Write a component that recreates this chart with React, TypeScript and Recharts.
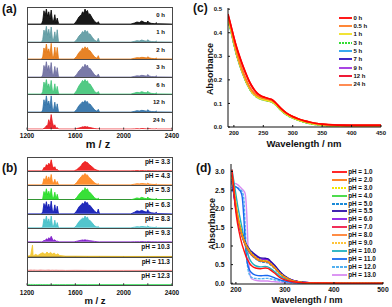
import React from 'react';
import { AreaChart, Area, XAxis, YAxis, LineChart, Line, Legend } from 'recharts';

const FONT = '"Liberation Sans", Arial, Helvetica, sans-serif';

// ---------- mass spectra (panels a, b) ----------
const MZ = [1200,
  1320, 1330, 1340, 1350, 1360, 1370, 1380, 1390, 1400, 1410, 1420, 1430, 1440, 1450, 1460, 1470,
  1590, 1610, 1630, 1650, 1660, 1670, 1680, 1690, 1700, 1710, 1720, 1740, 1760, 1780, 1790, 1800,
  2060, 2090, 2110, 2130, 2150, 2170, 2190, 2200, 2210, 2230, 2260, 2270, 2280, 2400];
const MZ_LOW = [1200, 1215, 1230, 1245, 1250, 1255, 1270, 1290, 1310, 1330, 1350, 1365, 1380, 1395, 1410,
  1425, 1440, 1455, 1470, 1490, 1520, 1600, 1700, 1800, 2000, 2200, 2400];
const MZ_TICKS = [1200, 1400, 1600, 1800, 2000, 2200, 2400];
const MZ_LABELED = [1200, 1600, 2000, 2400];

const MS_0H = [0, 0, 20, 78, 50, 88, 45, 72, 30, 82, 22, 18, 55, 8, 35, 5, 0, 0, 18, 42, 55, 72, 62, 88, 70, 80, 55, 60, 35, 15, 4, 14, 0, 0, 6, 12, 9, 18, 10, 7, 18, 8, 4, 2, 8, 2, 0];
const MS_1H = [0, 0, 15, 70, 45, 92, 40, 75, 25, 88, 18, 15, 60, 5, 72, 3, 0, 0, 12, 35, 50, 62, 55, 70, 58, 65, 45, 48, 28, 10, 3, 22, 0, 0, 4, 8, 6, 12, 7, 5, 14, 6, 3, 2, 6, 1, 0];
const MS_2H = [0, 0, 12, 65, 40, 88, 38, 60, 22, 92, 15, 12, 70, 5, 68, 3, 0, 0, 15, 38, 52, 65, 58, 72, 60, 68, 48, 50, 30, 12, 4, 20, 0, 0, 5, 8, 7, 10, 9, 6, 14, 7, 4, 2, 6, 1, 0];
const MS_3H = [0, 0, 12, 68, 42, 90, 40, 68, 25, 85, 16, 14, 62, 6, 55, 3, 0, 0, 14, 36, 50, 62, 56, 75, 62, 70, 48, 52, 32, 12, 4, 18, 0, 0, 4, 7, 6, 10, 8, 5, 15, 6, 3, 2, 7, 1, 0];
const MS_6H = [0, 0, 15, 70, 45, 85, 40, 60, 22, 80, 18, 15, 60, 6, 45, 4, 0, 0, 20, 48, 68, 80, 72, 85, 72, 78, 58, 60, 38, 14, 5, 15, 0, 0, 6, 10, 8, 14, 9, 7, 16, 8, 4, 2, 7, 1, 0];
const MS_12H = [0, 0, 12, 72, 40, 95, 42, 65, 25, 95, 18, 14, 58, 5, 48, 3, 0, 0, 14, 38, 52, 60, 55, 68, 58, 62, 45, 48, 30, 12, 4, 16, 0, 0, 4, 8, 6, 10, 8, 5, 14, 6, 3, 2, 6, 1, 0];
const MS_24H = [0, 0, 0, 4, 8, 20, 18, 55, 30, 85, 40, 15, 25, 5, 8, 2, 0, 0, 3, 6, 10, 13, 12, 15, 12, 14, 10, 9, 6, 3, 1, 2, 0, 0, 1, 2, 1, 3, 2, 1, 3, 2, 1, 0, 2, 0, 0];

const MS_PH33 = [0, 0, 5, 25, 20, 45, 35, 55, 40, 80, 35, 20, 30, 8, 10, 2, 0, 0, 8, 22, 40, 55, 60, 68, 62, 60, 50, 42, 28, 12, 4, 3, 0, 0, 1, 2, 1, 2, 1, 1, 2, 1, 1, 0, 1, 0, 0];
const MS_PH43 = [0, 0, 10, 45, 30, 65, 30, 58, 25, 75, 18, 14, 40, 5, 25, 2, 0, 0, 15, 40, 60, 72, 68, 82, 70, 72, 55, 50, 32, 14, 4, 8, 0, 0, 5, 8, 7, 10, 8, 6, 12, 6, 4, 2, 6, 1, 0];
const MS_PH53 = [0, 0, 10, 60, 35, 80, 35, 62, 25, 82, 18, 14, 55, 5, 40, 2, 0, 0, 15, 40, 58, 70, 65, 88, 72, 80, 58, 55, 35, 14, 5, 12, 0, 0, 8, 14, 10, 18, 12, 8, 20, 10, 6, 3, 9, 2, 0];
const MS_PH63 = [0, 0, 15, 75, 45, 88, 40, 70, 28, 92, 20, 15, 65, 6, 55, 3, 0, 0, 20, 50, 68, 78, 70, 90, 78, 82, 60, 62, 40, 18, 6, 35, 0, 0, 12, 22, 18, 25, 18, 12, 30, 14, 8, 4, 12, 2, 0];
const MS_PH83 = [0, 0, 10, 65, 40, 85, 35, 65, 22, 85, 16, 14, 55, 5, 38, 2, 0, 0, 18, 45, 62, 70, 65, 85, 70, 78, 55, 55, 35, 14, 5, 10, 0, 0, 5, 8, 7, 10, 8, 6, 14, 6, 4, 2, 7, 1, 0];
const MS_PH93 = [0, 0, 3, 10, 8, 22, 15, 30, 18, 40, 20, 10, 15, 4, 5, 2, 0, 0, 4, 8, 12, 14, 12, 15, 12, 12, 10, 8, 6, 3, 1, 1, 0, 0, 1, 1, 1, 2, 1, 1, 2, 1, 1, 0, 1, 0, 0];
const MS_PH103 = [10, 6, 12, 85, 14, 8, 18, 10, 22, 30, 18, 35, 22, 32, 20, 28, 14, 22, 10, 8, 5, 5, 4, 4, 3, 3, 3];
const MS_PH113 = [6, 4, 6, 5, 4, 6, 5, 4, 6, 5, 4, 5, 6, 4, 5, 4, 5, 4, 4, 4, 3, 4, 3, 3, 3, 3, 3];
const MS_PH123 = [4, 3, 3, 3, 2, 3, 2, 2, 3, 2, 2, 2, 2, 2, 2, 2, 2, 2, 2, 2, 2, 2, 2, 2, 2, 2, 2];

const TIME_LABELS = ['0 h', '1 h', '2 h', '3 h', '6 h', '12 h', '24 h'];
const TIME_COLORS = ['#000000', '#5b98a0', '#e4760f', '#6b6b9e', '#3fc477', '#2b6ea6', '#e8141c'];
const TIME_SPECTRA = [MS_0H, MS_1H, MS_2H, MS_3H, MS_6H, MS_12H, MS_24H];

const PH_LABELS = ['pH = 3.3', 'pH = 4.3', 'pH = 5.3', 'pH = 6.3', 'pH = 8.3', 'pH = 9.3', 'pH = 10.3', 'pH = 11.3', 'pH = 12.3'];
const PH_COLORS = ['#ee1111', '#ff8418', '#22dd22', '#0a14b4', '#40bfc8', '#7a14c8', '#f2c42a', '#f07a7a', '#33dd55'];
const PH_SPECTRA = [MS_PH33, MS_PH43, MS_PH53, MS_PH63, MS_PH83, MS_PH93, MS_PH103, MS_PH113, MS_PH123];
const PH_GRIDS = [MZ, MZ, MZ, MZ, MZ, MZ, MZ_LOW, MZ_LOW, MZ_LOW];

// ---------- UV-vis vs time (panel c) ----------
const WL_C = [190, 195, 200, 205, 210, 215, 220, 225, 230, 235, 240, 245, 250, 255, 260, 265, 270, 275, 280, 290, 300, 310, 320, 330, 340, 350, 360, 380, 400, 425, 450];
const ABS_T0 = [0.48, 0.43, 0.38, 0.335, 0.297, 0.262, 0.23, 0.2, 0.176, 0.157, 0.143, 0.134, 0.128, 0.124, 0.12, 0.116, 0.105, 0.092, 0.079, 0.058, 0.044, 0.034, 0.026, 0.02, 0.015, 0.012, 0.01, 0.008, 0.007, 0.007, 0.007];
const ABS_T05 = [0.47, 0.42, 0.365, 0.315, 0.273, 0.237, 0.205, 0.178, 0.157, 0.142, 0.132, 0.126, 0.122, 0.119, 0.116, 0.112, 0.102, 0.09, 0.077, 0.057, 0.043, 0.033, 0.025, 0.019, 0.014, 0.011, 0.009, 0.007, 0.006, 0.006, 0.006];
const ABS_T1 = [0.455, 0.41, 0.355, 0.305, 0.264, 0.228, 0.197, 0.171, 0.15, 0.136, 0.126, 0.12, 0.116, 0.113, 0.11, 0.106, 0.097, 0.085, 0.072, 0.052, 0.039, 0.029, 0.021, 0.015, 0.011, 0.008, 0.006, 0.004, 0.003, 0.003, 0.003];
const ABS_T3 = [0.45, 0.407, 0.353, 0.303, 0.262, 0.227, 0.196, 0.17, 0.149, 0.135, 0.125, 0.119, 0.115, 0.112, 0.109, 0.105, 0.096, 0.084, 0.071, 0.051, 0.038, 0.028, 0.02, 0.014, 0.01, 0.007, 0.005, 0.003, 0.002, 0.002, 0.002];
const ABS_T5 = [0.452, 0.408, 0.354, 0.304, 0.263, 0.228, 0.197, 0.171, 0.15, 0.136, 0.126, 0.12, 0.116, 0.113, 0.11, 0.106, 0.097, 0.085, 0.072, 0.052, 0.039, 0.029, 0.021, 0.015, 0.011, 0.008, 0.006, 0.004, 0.003, 0.003, 0.003];
const ABS_T7 = [0.458, 0.412, 0.356, 0.306, 0.265, 0.229, 0.198, 0.172, 0.151, 0.137, 0.127, 0.121, 0.117, 0.114, 0.111, 0.107, 0.098, 0.086, 0.073, 0.053, 0.04, 0.03, 0.022, 0.016, 0.012, 0.009, 0.007, 0.005, 0.004, 0.004, 0.004];
const ABS_T9 = [0.46, 0.414, 0.358, 0.308, 0.267, 0.231, 0.2, 0.174, 0.153, 0.139, 0.129, 0.123, 0.119, 0.116, 0.113, 0.109, 0.1, 0.088, 0.075, 0.055, 0.041, 0.031, 0.023, 0.017, 0.013, 0.01, 0.008, 0.006, 0.005, 0.005, 0.005];
const ABS_T12 = [0.475, 0.428, 0.378, 0.333, 0.295, 0.26, 0.228, 0.199, 0.175, 0.156, 0.142, 0.133, 0.127, 0.123, 0.119, 0.115, 0.104, 0.091, 0.078, 0.057, 0.043, 0.033, 0.025, 0.019, 0.014, 0.011, 0.009, 0.008, 0.007, 0.007, 0.007];
const ABS_T24 = [0.468, 0.418, 0.363, 0.313, 0.272, 0.236, 0.204, 0.178, 0.157, 0.143, 0.133, 0.127, 0.123, 0.12, 0.117, 0.113, 0.103, 0.091, 0.078, 0.058, 0.044, 0.034, 0.026, 0.02, 0.015, 0.012, 0.01, 0.008, 0.008, 0.008, 0.008];

const C_NAMES = ['0 h', '0.5 h', '1 h', '3 h', '5 h', '7 h', '9 h', '12 h', '24 h'];
const C_COLORS = ['#ff0000', '#ff7a22', '#f0e020', '#33dd33', '#22a0ee', '#2a10c0', '#a030e0', '#ee0020', '#ff7f40'];
const C_DASH = ['', '', '', '2 1', '', '', '', '', ''];
const C_VALUES = [ABS_T0, ABS_T05, ABS_T1, ABS_T3, ABS_T5, ABS_T7, ABS_T9, ABS_T12, ABS_T24];
const C_XTICKS = [200, 250, 300, 350, 400, 450];
const C_YTICKS = [0, 0.1, 0.2, 0.3, 0.4, 0.5];

// ---------- UV-vis vs pH (panel d) ----------
const WL_D = [192, 195, 198, 201, 204, 207, 210, 213, 216, 219, 222, 225, 228, 232, 240, 250, 260, 265, 270, 280, 290, 300, 315, 330, 350, 380, 420, 500];
const ABS_PH1 = [3.05, 2.6, 2.15, 1.8, 1.55, 1.35, 1.17, 1.02, 0.9, 0.78, 0.68, 0.6, 0.53, 0.47, 0.41, 0.39, 0.41, 0.4, 0.36, 0.26, 0.15, 0.09, 0.04, 0.02, 0.01, 0.005, 0.002, 0];
const ABS_PH2 = [2.95, 2.65, 2.3, 2.0, 1.78, 1.58, 1.42, 1.28, 1.16, 1.06, 0.98, 0.91, 0.85, 0.78, 0.68, 0.6, 0.58, 0.57, 0.52, 0.4, 0.26, 0.16, 0.07, 0.03, 0.012, 0.005, 0.002, 0];
const ABS_PH3 = [2.85, 2.62, 2.32, 2.05, 1.82, 1.62, 1.45, 1.3, 1.18, 1.08, 1.0, 0.93, 0.87, 0.8, 0.7, 0.62, 0.6, 0.59, 0.54, 0.41, 0.27, 0.17, 0.07, 0.03, 0.012, 0.005, 0.002, 0];
const ABS_PH4 = [2.9, 2.6, 2.28, 2.0, 1.78, 1.6, 1.43, 1.29, 1.17, 1.07, 0.99, 0.92, 0.86, 0.79, 0.69, 0.61, 0.59, 0.58, 0.53, 0.4, 0.26, 0.16, 0.07, 0.03, 0.012, 0.005, 0.002, 0];
const ABS_PH5 = [2.8, 2.55, 2.25, 1.98, 1.76, 1.57, 1.4, 1.26, 1.14, 1.04, 0.96, 0.89, 0.83, 0.76, 0.66, 0.58, 0.56, 0.55, 0.5, 0.38, 0.25, 0.15, 0.065, 0.03, 0.012, 0.005, 0.002, 0];
const ABS_PH55 = [2.75, 2.5, 2.2, 1.95, 1.75, 1.58, 1.43, 1.31, 1.2, 1.11, 1.03, 0.97, 0.91, 0.85, 0.76, 0.68, 0.67, 0.66, 0.6, 0.47, 0.31, 0.19, 0.085, 0.04, 0.015, 0.006, 0.002, 0];
const ABS_PH6 = [2.7, 2.45, 2.15, 1.9, 1.7, 1.53, 1.39, 1.27, 1.17, 1.08, 1.0, 0.94, 0.88, 0.82, 0.73, 0.65, 0.64, 0.63, 0.58, 0.45, 0.3, 0.18, 0.08, 0.035, 0.014, 0.006, 0.002, 0];
const ABS_PH7 = [2.9, 2.55, 2.2, 1.92, 1.7, 1.52, 1.37, 1.24, 1.13, 1.03, 0.95, 0.88, 0.82, 0.76, 0.67, 0.6, 0.59, 0.58, 0.53, 0.41, 0.27, 0.17, 0.075, 0.032, 0.013, 0.005, 0.002, 0];
const ABS_PH8 = [2.85, 2.55, 2.22, 1.95, 1.73, 1.55, 1.39, 1.26, 1.15, 1.05, 0.97, 0.9, 0.84, 0.77, 0.68, 0.61, 0.6, 0.59, 0.54, 0.42, 0.27, 0.17, 0.075, 0.032, 0.013, 0.005, 0.002, 0];
const ABS_PH9 = [2.8, 2.55, 2.24, 1.97, 1.74, 1.55, 1.39, 1.25, 1.13, 1.03, 0.95, 0.88, 0.82, 0.75, 0.66, 0.59, 0.58, 0.57, 0.52, 0.4, 0.26, 0.16, 0.07, 0.03, 0.012, 0.005, 0.002, 0];
const ABS_PH10 = [3.05, 2.8, 2.55, 2.3, 2.05, 1.85, 1.65, 1.45, 1.25, 1.05, 0.88, 0.75, 0.65, 0.56, 0.47, 0.44, 0.45, 0.44, 0.4, 0.3, 0.19, 0.12, 0.05, 0.02, 0.008, 0.004, 0.002, 0];
const ABS_PH11 = [2.55, 2.6, 2.6, 2.58, 2.55, 2.5, 2.45, 2.3, 1.8, 1.1, 0.65, 0.45, 0.35, 0.28, 0.22, 0.2, 0.21, 0.21, 0.19, 0.14, 0.09, 0.06, 0.025, 0.01, 0.004, 0.002, 0.001, 0];
const ABS_PH12 = [2.45, 2.55, 2.58, 2.58, 2.56, 2.53, 2.5, 2.45, 2.3, 1.5, 0.7, 0.35, 0.22, 0.16, 0.13, 0.12, 0.13, 0.13, 0.12, 0.09, 0.06, 0.04, 0.015, 0.006, 0.002, 0.001, 0, 0];
const ABS_PH13 = [2.55, 2.65, 2.68, 2.67, 2.64, 2.6, 2.56, 2.52, 2.48, 2.4, 1.9, 0.9, 0.3, 0.12, 0.08, 0.06, 0.06, 0.06, 0.05, 0.04, 0.03, 0.02, 0.01, 0.004, 0.002, 0.001, 0, 0];

const D_NAMES = ['pH = 1.0', 'pH = 2.0', 'pH = 3.0', 'pH = 4.0', 'pH = 5.0', 'pH = 5.5', 'pH = 6.0', 'pH = 7.0', 'pH = 8.0', 'pH = 9.0', 'pH = 10.0', 'pH = 11.0', 'pH = 12.0', 'pH = 13.0'];
const D_COLORS = ['#ff1010', '#ff7a10', '#f2e600', '#3ad83a', '#1a8ad8', '#2c0ca8', '#8a18e8', '#f01848', '#ff7f30', '#ffc43a', '#1fb0c0', '#1868f0', '#52b0f0', '#d88cf2'];
const D_DASH = ['', '', '2 1', '', '3 1', '', '', '', '', '2 1', '', '', '3 1', ''];
const D_VALUES = [ABS_PH1, ABS_PH2, ABS_PH3, ABS_PH4, ABS_PH5, ABS_PH55, ABS_PH6, ABS_PH7, ABS_PH8, ABS_PH9, ABS_PH10, ABS_PH11, ABS_PH12, ABS_PH13];
const D_XTICKS = [200, 300, 400, 500];
const D_YTICKS = [0, 0.5, 1.0, 1.5, 2.0, 2.5, 3.0];

// ---------- components ----------
const boldTick = (size: number) => ({ fontSize: size, fontWeight: 700, fill: '#111', fontFamily: FONT });

function SpectrumRow(props: any) {
  const { mz, values, color, height, axis, axisHeight, tickMargin, tickFont } = props;
  const data = mz.map((m: number, i: number) => ({ mz: m, v: values[i] }));
  return (
    <AreaChart width={181} height={height + (axis ? axisHeight : 0)} data={data}
      margin={{ top: 0, right: 18, bottom: 0, left: 18 }}>
      <XAxis dataKey="mz" type="number" domain={[1200, 2400]} ticks={MZ_TICKS} interval={0}
        hide={!axis} height={axisHeight} axisLine={false} tickLine={{ stroke: '#333' }}
        tickSize={-2} tickMargin={tickMargin} tick={boldTick(tickFont)} allowDataOverflow
        tickFormatter={(v: number) => (MZ_LABELED.includes(v) ? String(v) : '')} />
      <YAxis domain={[-3, 100]} hide allowDataOverflow />
      <Area type="linear" dataKey="v" stroke={color} strokeWidth={0.8} fill={color} fillOpacity={0.9}
        isAnimationActive={false} dot={false} activeDot={false} />
    </AreaChart>
  );
}

function SpectraPanel(props: any) {
  const { top, bottom, labels, colors, spectra, grids, labelFont, labelOffset, tickMargin, tickFont } = props;
  const n = labels.length;
  const rowH = (bottom - top) / n;
  const axisH = 20;
  return (
    <>
      {labels.map((_: string, i: number) => i > 0 ? (
        <div key={'sep' + i} style={{ position: 'absolute', left: 27, top: top + i * rowH - 0.6, width: 145, height: 1.2, background: '#484848' }} />
      ) : null)}
      {labels.map((lab: string, i: number) => (
        <div key={'row' + i} style={{ position: 'absolute', left: 9, top: top + i * rowH }}>
          <SpectrumRow mz={grids[i]} values={spectra[i]} color={colors[i]} height={rowH}
            axis={i === n - 1} axisHeight={axisH} tickMargin={tickMargin} tickFont={tickFont} />
        </div>
      ))}
      <div style={{ position: 'absolute', left: 26.5, top: top - 0.5, width: 146, height: bottom - top + 1, border: '1px solid #484848', boxSizing: 'border-box' }} />
      {labels.map((lab: string, i: number) => (
        <div key={'lab' + i} style={{ position: 'absolute', left: 27, width: props.labelRight - 27, top: top + i * rowH + labelOffset, textAlign: 'right', fontSize: labelFont, lineHeight: '8px', fontWeight: 700, color: '#111', whiteSpace: 'nowrap' }}>{lab}</div>
      ))}
    </>
  );
}

function LegendList(props: any) {
  const { names, colors, dashes, rowH, lineW, fontSize } = props;
  return (
    <div style={{ fontFamily: FONT, fontWeight: 700, fontSize, color: '#111' }}>
      {names.map((nm: string, i: number) => (
        <div key={nm} style={{ display: 'flex', alignItems: 'center', height: rowH, whiteSpace: 'nowrap' }}>
          <svg width={lineW} height={4} style={{ marginRight: 1.5, display: 'block' }}>
            <line x1={0} y1={2} x2={lineW} y2={2} stroke={colors[i]} strokeWidth={1.8} strokeDasharray={dashes[i] || undefined} />
          </svg>
          <span style={{ lineHeight: rowH + 'px' }}>{nm}</span>
        </div>
      ))}
    </div>
  );
}

function Title(props: any) {
  const { x, y, size, rotate, children } = props;
  return (
    <div style={{ position: 'absolute', left: x, top: y, transform: `translate(-50%, -50%)${rotate ? ' rotate(-90deg)' : ''}`, fontSize: size, fontWeight: 700, whiteSpace: 'nowrap', color: '#111', lineHeight: 1 }}>{children}</div>
  );
}

function PanelLabel(props: any) {
  return <div style={{ position: 'absolute', left: props.x, top: props.y, fontSize: 12, fontWeight: 700, lineHeight: '12px', color: '#111' }}>{props.children}</div>;
}

export default function App() {
  const dataC = WL_C.map((w, i) => {
    const row: any = { wl: w };
    C_VALUES.forEach((vals, k) => { row['s' + k] = vals[i]; });
    return row;
  });
  const dataD = WL_D.map((w, i) => {
    const row: any = { wl: w };
    D_VALUES.forEach((vals, k) => { row['s' + k] = vals[i]; });
    return row;
  });
  const orderC = C_NAMES.map((_, i) => C_NAMES.length - 1 - i);
  const orderD = D_NAMES.map((_, i) => D_NAMES.length - 1 - i);

  return (
    <div style={{ position: 'absolute', left: 0, top: 0, width: 392, height: 307, background: '#fff', overflow: 'hidden', fontFamily: FONT }}>
      {/* panel a */}
      <SpectraPanel top={7} bottom={130} labels={TIME_LABELS} colors={TIME_COLORS} spectra={TIME_SPECTRA}
        grids={TIME_SPECTRA.map(() => MZ)} labelFont={6} labelOffset={3.5} labelRight={165} tickMargin={5.5} tickFont={6.5} />
      <Title x={98} y={144} size={11}>m / z</Title>

      {/* panel b */}
      <SpectraPanel top={157} bottom={285.5} labels={PH_LABELS} colors={PH_COLORS} spectra={PH_SPECTRA}
        grids={PH_GRIDS} labelFont={6.5} labelOffset={0.7} labelRight={170} tickMargin={7} tickFont={6.5} />
      <Title x={95} y={301} size={9.5}>m / z</Title>

      {/* panel c */}
      <div style={{ position: 'absolute', left: 195, top: 0 }}>
        <LineChart width={197} height={155} data={dataC} margin={{ top: 8, right: 11, bottom: 6, left: 0 }}>
          <XAxis dataKey="wl" type="number" domain={[190, 450]} ticks={C_XTICKS} interval={0} height={22}
            axisLine={{ stroke: '#111', strokeWidth: 1 }} tickLine={{ stroke: '#111' }} tickSize={-2} tickMargin={6}
            tick={boldTick(6)} allowDataOverflow />
          <XAxis xAxisId="top" orientation="top" dataKey="wl" type="number" domain={[190, 450]} height={0}
            tick={false} tickLine={false} axisLine={{ stroke: '#555', strokeWidth: 2 }} />
          <YAxis type="number" domain={[0, 0.505]} ticks={C_YTICKS} interval={0} width={33}
            axisLine={{ stroke: '#111', strokeWidth: 1 }} tickLine={{ stroke: '#111' }} tickSize={-2} tickMargin={8}
            tick={boldTick(6)} tickFormatter={(v: number) => v.toFixed(1)} allowDataOverflow />
          <YAxis yAxisId="right" orientation="right" type="number" domain={[0, 0.505]} width={0}
            tick={false} tickLine={false} axisLine={{ stroke: '#555', strokeWidth: 2 }} />
          {orderC.map((k) => (
            <Line key={k} type="monotone" dataKey={'s' + k} name={C_NAMES[k]} stroke={C_COLORS[k]} strokeWidth={1.7}
              strokeDasharray={C_DASH[k] || undefined} dot={false} activeDot={false} isAnimationActive={false} />
          ))}
          <Legend layout="vertical" align="center" verticalAlign="middle"
            wrapperStyle={{ left: 144, top: 13.5, width: 'auto', height: 'auto' }}
            content={() => <LegendList names={C_NAMES} colors={C_COLORS} dashes={C_DASH} rowH={8.37} lineW={13} fontSize={6} />} />
        </LineChart>
      </div>
      <Title x={210} y={69} size={9} rotate>Absorbance</Title>
      <Title x={304} y={144} size={9.5}>Wavelength / nm</Title>

      {/* panel d */}
      <div style={{ position: 'absolute', left: 195, top: 155 }}>
        <LineChart width={197} height={152} data={dataD} margin={{ top: 9, right: 9, bottom: 3, left: 0 }}>
          <XAxis dataKey="wl" type="number" domain={[190, 500]} ticks={D_XTICKS} interval={0} height={20}
            axisLine={{ stroke: '#111', strokeWidth: 1 }} tickLine={{ stroke: '#111' }} tickSize={-2} tickMargin={5.5}
            tick={boldTick(6.8)} allowDataOverflow />
          <XAxis xAxisId="top" orientation="top" dataKey="wl" type="number" domain={[190, 500]} height={0}
            tick={false} tickLine={false} axisLine={{ stroke: '#333', strokeWidth: 1.5 }} />
          <YAxis type="number" domain={[-0.02, 3.2]} ticks={D_YTICKS} interval={0} width={36}
            axisLine={{ stroke: '#111', strokeWidth: 1 }} tickLine={{ stroke: '#111' }} tickSize={-2} tickMargin={8.5}
            tick={boldTick(6.8)} tickFormatter={(v: number) => v.toFixed(1)} allowDataOverflow />
          <YAxis yAxisId="right" orientation="right" type="number" domain={[-0.02, 3.2]} width={0}
            tick={false} tickLine={false} axisLine={{ stroke: '#333', strokeWidth: 1.5 }} />
          {orderD.map((k) => (
            <Line key={k} type="monotone" dataKey={'s' + k} name={D_NAMES[k]} stroke={D_COLORS[k]} strokeWidth={1.4}
              strokeDasharray={D_DASH[k] || undefined} dot={false} activeDot={false} isAnimationActive={false} />
          ))}
          <Legend layout="vertical" align="center" verticalAlign="middle"
            wrapperStyle={{ left: 136.7, top: 13, width: 'auto', height: 'auto' }}
            content={() => <LegendList names={D_NAMES} colors={D_COLORS} dashes={D_DASH} rowH={7.9} lineW={15} fontSize={6.3} />} />
        </LineChart>
      </div>
      <Title x={211.5} y={224} size={9} rotate>Absorbance</Title>
      <Title x={307} y={300} size={9} >Wavelength / nm</Title>

      <PanelLabel x={2} y={3}>(a)</PanelLabel>
      <PanelLabel x={2} y={162}>(b)</PanelLabel>
      <PanelLabel x={193} y={2}>(c)</PanelLabel>
      <PanelLabel x={196} y={162}>(d)</PanelLabel>
    </div>
  );
}
